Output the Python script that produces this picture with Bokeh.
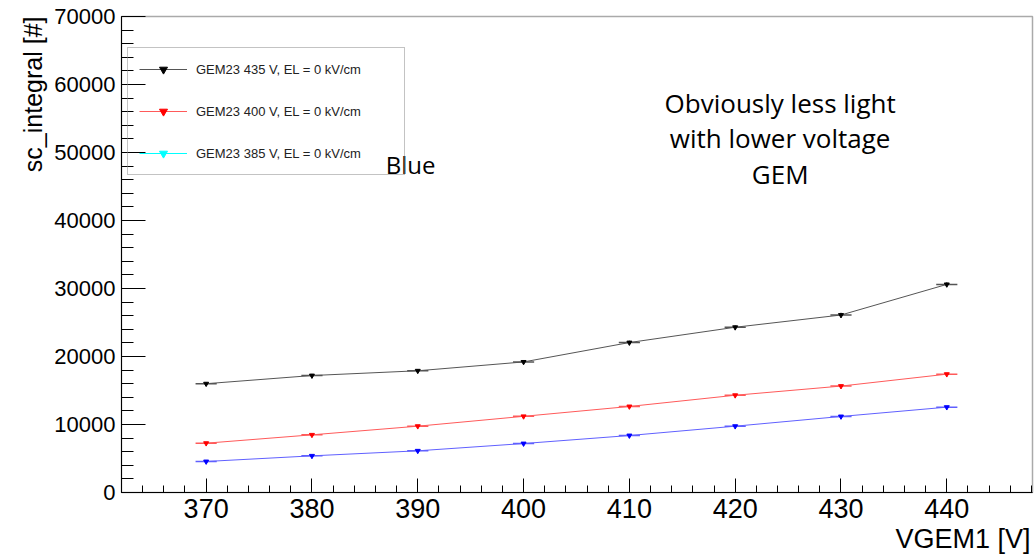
import math
from bokeh.plotting import figure
from bokeh.models import (ColumnDataSource, SingleIntervalTicker, Legend, LegendItem,
                          Label, Range1d, Title)
from bokeh.embed import file_html
from bokeh.resources import INLINE

# ---- data ----
vgem1 = [370, 380, 390, 400, 410, 420, 430, 440]
gem435 = [16000, 17200, 17900, 19200, 22050, 24300, 26100, 30600]
gem400 = [7250, 8480, 9750, 11200, 12650, 14300, 15650, 17400]
gem385 = [4560, 5390, 6130, 7200, 8380, 9750, 11180, 12550]
x_err = [1, 1, 1, 1, 1, 1, 1, 1]
err435 = [250, 250, 250, 250, 300, 300, 350, 350]
err400 = [150, 150, 150, 150, 180, 180, 200, 200]
err385 = [120, 120, 120, 120, 150, 150, 160, 160]

labels = ["GEM23 435 V, EL = 0 kV/cm", "GEM23 400 V, EL = 0 kV/cm", "GEM23 385 V, EL = 0 kV/cm"]
x_title = "VGEM1 [V]"
y_title = "sc_integral [#]"
note_lines = ["Obviously less light", "with lower voltage", "GEM"]
side_note = "Blue"

W, H = 1035, 557
p = figure(width=W, height=H, output_backend="svg", toolbar_location=None,
           x_range=Range1d(362, 448.1), y_range=Range1d(0, 70000),
           min_border_left=121, min_border_right=3, min_border_top=16, min_border_bottom=65)
p.background_fill_color = "white"
p.border_fill_color = "white"
p.outline_line_color = "#aaaaaa"
p.outline_line_width = 1.5
p.xgrid.visible = False
p.ygrid.visible = False

AX_FONT = "Liberation Sans"
xa = p.xaxis[0]
xa.ticker = SingleIntervalTicker(interval=10, num_minor_ticks=5)
xa.major_tick_in = 14
xa.major_tick_out = 0
xa.minor_tick_in = 7
xa.minor_tick_out = 0
xa.major_label_text_font = AX_FONT
xa.major_label_text_font_size = "27px"
xa.major_label_text_color = "black"
xa.major_label_standoff = 6
xa.axis_line_color = "black"

ya = p.yaxis[0]
ya.ticker = SingleIntervalTicker(interval=10000, num_minor_ticks=5)
ya.major_tick_in = 24
ya.major_tick_out = 0
ya.minor_tick_in = 12
ya.minor_tick_out = 0
ya.major_label_text_font = AX_FONT
ya.major_label_text_font_size = "22px"
ya.major_label_text_color = "black"
ya.major_label_standoff = 6
ya.axis_line_color = "black"

series = [
    (gem435, err435, "black", "#555555", labels[0]),
    (gem400, err400, "red", "#ff5a5a", labels[1]),
    (gem385, err385, "blue", "#6060ff", labels[2]),
]
renderers = []
for ys, ye, mc, lc, lab in series:
    src = ColumnDataSource(dict(
        x=vgem1, y=ys,
        x0=[a - e for a, e in zip(vgem1, x_err)], x1=[a + e for a, e in zip(vgem1, x_err)],
        y0=[a - e for a, e in zip(ys, ye)], y1=[a + e for a, e in zip(ys, ye)],
    ))
    lr = p.line("x", "y", source=src, line_color=lc, line_width=1)
    p.segment(x0="x0", y0="y", x1="x1", y1="y", source=src, line_color=lc, line_width=1.5)
    p.segment(x0="x", y0="y0", x1="x", y1="y1", source=src, line_color=lc, line_width=1)
    sr = p.scatter("x", "y", source=src, marker="inverted_triangle", size=5,
                   fill_color=mc, line_color=mc)
    renderers.append((lr, sr))

# legend entries (third entry shown in cyan as in the original)
leg_items = []
leg_items.append(LegendItem(label=labels[0], renderers=list(renderers[0])))
leg_items.append(LegendItem(label=labels[1], renderers=list(renderers[1])))
dummy = ColumnDataSource(dict(x=[vgem1[0]], y=[float("nan")]))
cl = p.line("x", "y", source=dummy, line_color="cyan", line_width=1)
cs = p.scatter("x", "y", source=dummy, marker="inverted_triangle", size=5,
               fill_color="cyan", line_color="cyan")
leg_items.append(LegendItem(label=labels[2], renderers=[cl, cs]))

legend = Legend(items=leg_items, location=(6, 317), orientation="vertical",
                label_text_font=AX_FONT, label_text_font_size="13px",
                label_text_color="#222222", label_height=20, label_width=197,
                glyph_height=20, glyph_width=48, label_standoff=9,
                padding=11, spacing=22, margin=0,
                border_line_color="#888888", border_line_width=1,
                background_fill_color="white", background_fill_alpha=0.0)
p.add_layout(legend, "center")

# axis titles placed like ROOT (at the ends of the axes)
p.add_layout(Title(text=x_title, align="right", text_font=AX_FONT,
                   text_font_size="27px", text_font_style="normal",
                   text_color="black", standoff=3, offset=2), "below")
p.add_layout(Title(text=y_title, align="right", text_font=AX_FONT,
                   text_font_size="25px", text_font_style="normal",
                   text_color="black", standoff=10, offset=0), "left")

NOTE_FONT = "Open Sans"
for txt, yy in zip(note_lines, [57350, 52060, 46910]):
    p.add_layout(Label(x=424.25, y=yy, text=txt, text_align="center",
                       text_baseline="alphabetic", text_font=NOTE_FONT,
                       text_font_size="26px", text_color="black"))
blue_lbl = Label(x=386.97, y=48235, text=side_note, text_align="left",
                 text_baseline="alphabetic", text_font=NOTE_FONT,
                 text_font_size="24px", text_color="black")
p.add_layout(blue_lbl)

open("out.html", "w").write(file_html(p, INLINE))
